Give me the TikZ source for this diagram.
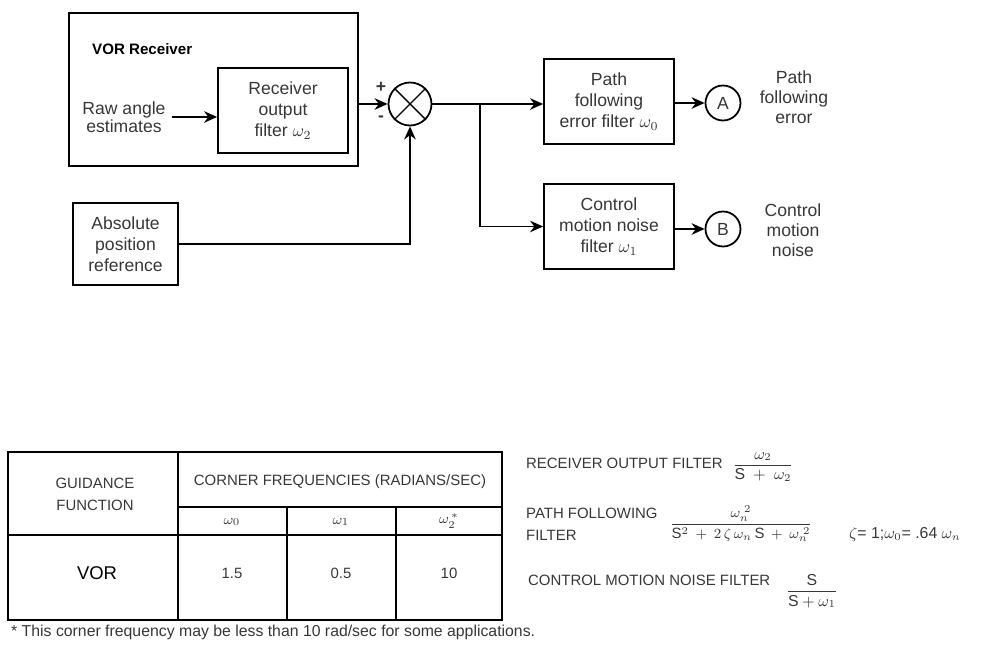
\documentclass[tikz,border=0pt]{standalone}
\usepackage{amsmath}
\usepackage{fontspec}
\setmainfont{Liberation Sans}
\usetikzlibrary{calc}
\usetikzlibrary{arrows.meta}
\usetikzlibrary{shapes.geometric,positioning}
\definecolor{txtgray}{RGB}{55,55,55}

\begin{document}
\begin{tikzpicture}[>={Stealth[length=2.6mm,width=2.3mm]}, x=0.2mm, y=-0.2mm,
  blk/.style={draw, line width=1pt, minimum width=26mm, minimum height=17mm, align=center,
    text=txtgray, font=\fontsize{10}{12}\selectfont, inner sep=1pt},
  lbl/.style={align=center, text=txtgray, font=\fontsize{10}{11.5}\selectfont},
  port/.style={circle, draw, line width=1pt, minimum size=7mm, inner sep=0pt,
    text=txtgray, font=\fontsize{10}{12}\selectfont},
  tabtxt/.style={align=center, text=txtgray, font=\fontsize{8.5}{12.5}\selectfont},
  frm/.style={anchor=west, align=left, text=txtgray, font=\fontsize{8.5}{12.5}\selectfont},
  frac/.style={text=txtgray, font=\fontsize{9}{11}\selectfont, inner sep=1pt}]

\useasboundingbox (0,0) rectangle (985,648);

% block diagram
\node[draw, line width=1pt, minimum width=57.8mm, minimum height=30.6mm] (rcv) at (213.5,89.5) {};
\node[anchor=west, font=\bfseries\fontsize{8.6}{11}\selectfont] (rcvlab) at (86,49) {VOR Receiver};
\node[blk] (rof) at (283,110.5) {Receiver\\output\\filter $\omega_2$};
\node[lbl, font=\fontsize{10}{10.5}\selectfont] (raw) at (124,117) {Raw angle\\estimates};

\node[circle, draw, line width=1pt, minimum size=8.6mm, inner sep=0pt] (sum) at (410,104) {};
\draw[line width=0.8pt] (sum.north west) -- (sum.south east) (sum.north east) -- (sum.south west);
\node[text=txtgray, font=\bfseries\fontsize{10}{11}\selectfont] (plus) at (381,87) {+};
\node[text=txtgray, font=\bfseries\fontsize{10}{11}\selectfont] (minus) at (381,119) {-};

\node[blk, minimum width=21mm, minimum height=16.4mm] (abs) at (125.5,244) {Absolute\\position\\reference};

\node[blk] (pfe) at (609,101.5) {Path\\following\\error filter $\omega_0$};
\node[blk] (cmn) at (609,226.5) {Control\\motion noise\\filter $\omega_1$};
\node[port] (pa) at (723,103) {A};
\node[port] (pb) at (723,229) {B};
\node[lbl] (pal) at (794,97) {Path\\following\\error};
\node[lbl] (pbl) at (793,230) {Control\\motion\\noise};

\coordinate (br) at (480,104);

\draw[line width=1pt,->] (raw.east) -- (raw.east -| rof.west);
\draw[line width=1pt,->] (sum.west -| rcv.east) -- (sum.west);
\draw[line width=1pt,->] (abs.east) -| (sum.south);
\draw[line width=1pt,->] (sum.east) -- (sum.east -| pfe.west);
\draw[line width=1pt,->] (br) |- (cmn.west);
\draw[line width=1pt,->] (pa.west -| pfe.east) -- (pa.west);
\draw[line width=1pt,->] (pb.west -| cmn.east) -- (pb.west);

% table
\draw[line width=0.6pt] (8,452) rectangle (502,620);
\draw[line width=0.6pt] (178,452) -- (178,620);
\draw[line width=0.6pt] (178,507) -- (502,507);
\draw[line width=0.6pt] (8,535) -- (502,535);
\draw[line width=0.6pt] (287,507) -- (287,620);
\draw[line width=0.6pt] (396,507) -- (396,620);

\node[tabtxt] (gf) at (95,494) {GUIDANCE\\FUNCTION};
\node[tabtxt] (cf) at (340,482) {CORNER FREQUENCIES (RADIANS/SEC)};
\node[tabtxt] (w0) at (232,522) {$\omega_0$};
\node[tabtxt] (w1) at (341,522) {$\omega_1$};
\node[tabtxt] (w2) at (449,521) {$\omega_2^{\,*}$};
\node[font=\fontsize{10.5}{12}\selectfont] (vor) at (97,573) {VOR};
\node[tabtxt] (v0) at (232,573) {1.5};
\node[tabtxt] (v1) at (341,573) {0.5};
\node[tabtxt] (v2) at (449,573) {10};
\node[anchor=west, text=txtgray, font=\fontsize{9}{11}\selectfont] (note) at (5,632)
  {* This corner frequency may be less than 10 rad/sec for some applications.};

% filter formulas
\node[frm] (roflab) at (520,463) {RECEIVER OUTPUT FILTER};
\node[frac] (roffrac) at (763,467) {$\dfrac{\omega_2}{\mathrm{S}\;+\;\omega_2}$};
\node[frm] (pfflab) at (520,524) {PATH FOLLOWING\\FILTER};
\node[frac, font=\fontsize{8.5}{11}\selectfont] (pfffrac) at (741,524) {$\dfrac{\omega_n^{\;2}}{\mathrm{S}^2\:+\:2\,\zeta\,\omega_n\,\mathrm{S}\:+\:\omega_n^{\;2}}$};
\node[anchor=west, text=txtgray, font=\fontsize{9}{11}\selectfont] (zeta) at (843,535) {$\zeta$= 1;$\omega_0$= .64 $\omega_n$};
\node[frm] (cmnlab) at (522,580) {CONTROL MOTION NOISE FILTER};
\node[frac] (cmnfrac) at (812,591) {$\dfrac{\mathrm{S}}{\mathrm{S}+\omega_1}$};
\end{tikzpicture}
\end{document}
